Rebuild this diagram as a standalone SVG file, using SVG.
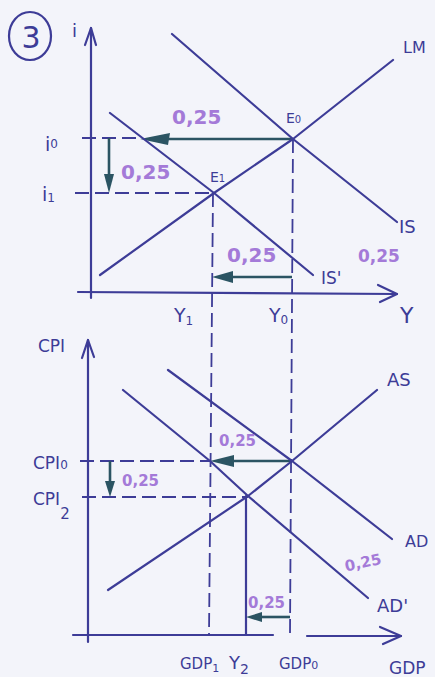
<svg xmlns="http://www.w3.org/2000/svg" width="435" height="677" viewBox="0 0 435 677">
<defs>
<style>
.ink{fill:none;stroke:#3d3c97;stroke-width:2.2;stroke-linecap:round;stroke-linejoin:round}
.dash{fill:none;stroke:#3d3c97;stroke-width:1.8;stroke-dasharray:14 6}
.arr{fill:none;stroke:#2b5463;stroke-width:2.6}
.head{fill:#2b5463}
.lab{font-family:"DejaVu Sans",sans-serif;fill:#3d3c97}
.v{font-family:"DejaVu Sans",sans-serif;fill:#a47ad8;font-size:20px;font-weight:bold}
.vs{font-family:"DejaVu Sans",sans-serif;fill:#a47ad8;font-size:15px;font-weight:bold}
</style>
</defs>
<rect width="435" height="677" fill="#f3f4fa"/>

<g id="number">
<ellipse cx="30" cy="36" rx="21" ry="24" class="ink"/>
<text x="31" y="48" class="lab" style="font-size:30px" text-anchor="middle">3</text>
</g>

<g id="axes">
<polyline class="ink" points="91,298 91,28"/>
<polyline class="ink" points="85,45 91,28 96,45"/>
<polyline class="ink" points="78,292 397,294"/>
<polyline class="ink" points="378,285 397,294 380,302"/>
<polyline class="ink" points="88,642 88,340"/>
<polyline class="ink" points="82,358 88,340 94,357"/>
<polyline class="ink" points="73,635 273,635"/>
<polyline class="ink" points="307,636 401,636"/>
<polyline class="ink" points="380,627 401,636 383,644"/>
</g>

<g id="connectors">
<polyline class="dash" points="82,138 140,138"/>
<polyline class="dash" points="75,193 214,193"/>
<polyline class="dash" points="213,193 209,635"/>
<polyline class="dash" points="293,139 290,635"/>
<polyline class="dash" points="80,461 210,461"/>
<polyline class="dash" points="82,497 248,497"/>
<line class="ink" x1="246" y1="496" x2="246" y2="635"/>
<line class="arr" x1="293" y1="139" x2="160" y2="139"/>
<polygon class="head" points="140,139 170,133 168,145"/>
<line class="arr" x1="109" y1="138" x2="109" y2="176"/>
<polygon class="head" points="109,193 104,174 114,174"/>
<line class="arr" x1="292" y1="277" x2="228" y2="277"/>
<polygon class="head" points="212,277 233,271 233,283"/>
<line class="arr" x1="292" y1="461" x2="228" y2="461"/>
<polygon class="head" points="210,461 234,455 234,467"/>
<line class="arr" x1="110" y1="461" x2="110" y2="484"/>
<polygon class="head" points="110,497 105,481 115,481"/>
<line class="arr" stroke-width="2" x1="290" y1="617" x2="258" y2="617"/>
<polygon class="head" points="246,617 262,612 262,622"/>
</g>

<g id="LM"><polyline class="ink" points="100,275 214,193 293,139 393,60"/><text x="403" y="53" class="lab" style="font-size:16px">LM</text></g>
<g id="IS"><polyline class="ink" points="172,34 293,139 397,222"/><text x="399" y="233" class="lab" style="font-size:18px">IS</text></g>
<g id="IS1"><polyline class="ink" points="110,113 214,193 313,275"/><text x="321" y="284" class="lab" style="font-size:17px">IS'</text></g>
<g id="AS"><polyline class="ink" points="108,590 248,496 292,461 377,390"/><text x="387" y="386" class="lab" style="font-size:18px">AS</text></g>
<g id="AD"><polyline class="ink" points="168,370 292,461 392,539"/><text x="405" y="547" class="lab" style="font-size:16px">AD</text></g>
<g id="AD1"><polyline class="ink" points="123,390 210,461 248,496 368,598"/><text x="377" y="612" class="lab" style="font-size:18px">AD'</text></g>

<g id="labels">
<text x="72" y="37" class="lab" style="font-size:18px">i</text>
<text x="45" y="151" class="lab" style="font-size:19px">i<tspan style="font-size:12px" dy="-3">0</tspan></text>
<text x="42" y="201" class="lab" style="font-size:19px">i<tspan style="font-size:12px" dy="1">1</tspan></text>
<text x="286" y="123" class="lab" style="font-size:14px">E<tspan style="font-size:10px">0</tspan></text>
<text x="210" y="182" class="lab" style="font-size:14px">E<tspan style="font-size:10px">1</tspan></text>
<text x="400" y="323" class="lab" style="font-size:22px">Y</text>
<text x="174" y="322" class="lab" style="font-size:19px">Y<tspan style="font-size:12px" dy="3">1</tspan></text>
<text x="269" y="322" class="lab" style="font-size:19px">Y<tspan style="font-size:12px" dy="2">0</tspan></text>
<text x="38" y="352" class="lab" style="font-size:17px">CPI</text>
<text x="33" y="469" class="lab" style="font-size:17px">CPI<tspan style="font-size:12px">0</tspan></text>
<text x="33" y="505" class="lab" style="font-size:17px">CPI<tspan style="font-size:15px" dy="14">2</tspan></text>
<text x="180" y="669" class="lab" style="font-size:15px">GDP<tspan style="font-size:11px" dy="3">1</tspan></text>
<text x="229" y="669" class="lab" style="font-size:18px">Y<tspan style="font-size:14px" dy="5">2</tspan></text>
<text x="279" y="669" class="lab" style="font-size:15px">GDP<tspan style="font-size:11px">0</tspan></text>
<text x="389" y="674" class="lab" style="font-size:17px">GDP</text>
</g>

<g id="values">
<text x="172" y="124" class="v">0,25</text>
<text x="121" y="179" class="v">0,25</text>
<text x="227" y="262" class="v">0,25</text>
<text x="358" y="262" class="vs" style="font-size:17px">0,25</text>
<text x="219" y="446" class="vs">0,25</text>
<text x="122" y="486" class="vs">0,25</text>
<text x="344" y="567" class="vs" transform="rotate(-12 366 560)">0,25</text>
<text x="248" y="608" class="vs">0,25</text>
</g>
</svg>
